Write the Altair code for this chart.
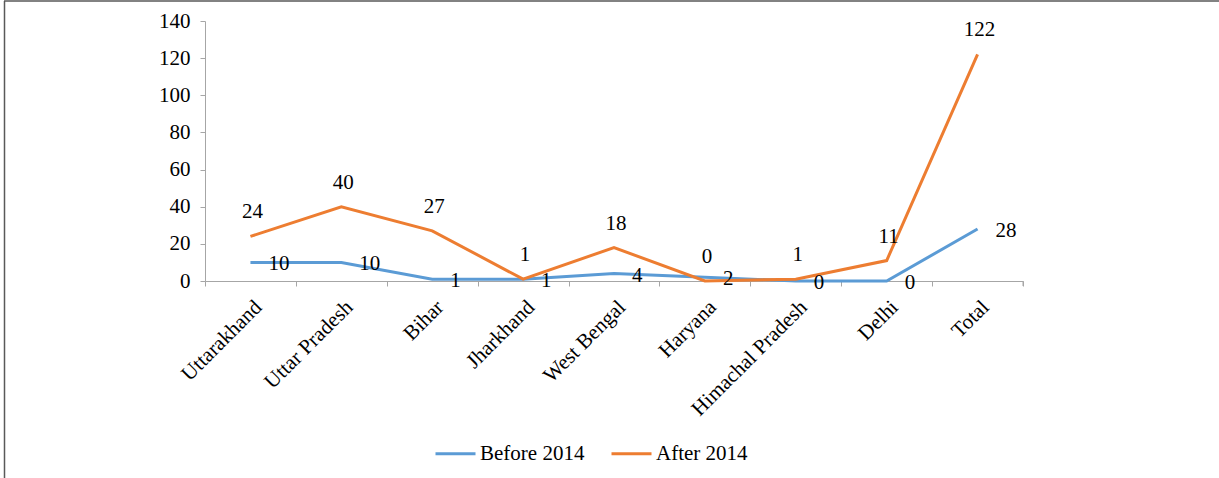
import altair as alt
import pandas as pd

states = ["Uttarakhand", "Uttar Pradesh", "Bihar", "Jharkhand", "West Bengal",
          "Haryana", "Himachal Pradesh", "Delhi", "Total"]
before_2014 = [10, 10, 1, 1, 4, 2, 0, 0, 28]
after_2014 = [24, 40, 27, 1, 18, 0, 1, 11, 122]
series_names = ["Before 2014", "After 2014"]
series_colors = ["#5B9BD5", "#ED7D31"]

rows = []
for s, b, a in zip(states, before_2014, after_2014):
    rows.append({"State": s, "Series": "Before 2014", "Value": b})
    rows.append({"State": s, "Series": "After 2014", "Value": a})
df = pd.DataFrame(rows)

FONT = "Liberation Serif"
FS = 21
AX = "#A6A6A6"
W, H = 818, 260

x_enc = alt.X("State:N", sort=states, title=None,
              scale=alt.Scale(type="band", paddingInner=0, paddingOuter=0),
              axis=alt.Axis(labelAngle=-45, labelFont=FONT, labelFontSize=FS,
                            labelColor="#000000", domainColor=AX, tickColor=AX,
                            tickSize=5, tickBand="extent", labelPadding=10,
                            grid=False, labelAlign="right", labelBaseline="top",
                            labelOverlap=False))
y_enc = alt.Y("Value:Q", title=None,
              scale=alt.Scale(domain=[0, 140], nice=False),
              axis=alt.Axis(values=[0, 20, 40, 60, 80, 100, 120, 140], labelFont=FONT,
                            labelFontSize=FS, labelColor="#000000", domainColor=AX,
                            tickColor=AX, tickSize=5, labelPadding=10, grid=False,
                            labelOverlap=False, labelFlush=False))

base = alt.Chart(df)

lines = base.mark_line(strokeWidth=3).encode(
    x=x_enc, y=y_enc,
    color=alt.Color("Series:N", sort=series_names,
                    scale=alt.Scale(domain=series_names, range=series_colors),
                    legend=alt.Legend(title=None, orient="none", legendX=229,
                                      legendY=411, direction="horizontal",
                                      symbolType="stroke", symbolStrokeWidth=3,
                                      symbolSize=1600, labelFont=FONT,
                                      labelFontSize=FS, labelColor="#000000",
                                      columnPadding=20, labelOffset=3, padding=0)),
    detail="Series:N",
)

lbl_before = base.transform_filter(alt.datum.Series == "Before 2014").mark_text(
    align="left", baseline="middle", dx=18, dy=2, font=FONT, fontSize=FS,
    color="#000000").encode(x=x_enc, y=y_enc, text="Value:Q")
lbl_after = base.transform_filter(alt.datum.Series == "After 2014").mark_text(
    align="center", baseline="middle", dx=2, dy=-24, font=FONT, fontSize=FS,
    color="#000000").encode(x=x_enc, y=y_enc, text="Value:Q")

end_tick = alt.Chart(pd.DataFrame({"k": [0]})).mark_rule(color=AX, strokeWidth=1).encode(
    x=alt.value(W), y=alt.value(H), y2=alt.value(H + 5))
frame_left = alt.Chart(pd.DataFrame({"k": [0]})).mark_rule(color="#595959", strokeWidth=1.5).encode(
    x=alt.value(-200.5), y=alt.value(-20), y2=alt.value(480))
frame_top = alt.Chart(pd.DataFrame({"k": [0]})).mark_rule(color="#595959", strokeWidth=1.5).encode(
    x=alt.value(-201), x2=alt.value(1020), y=alt.value(-20))

chart = alt.layer(lines, lbl_before, lbl_after, end_tick, frame_left, frame_top).properties(
    width=W, height=H,
    autosize=alt.AutoSizeParams(type="none"),
    padding={"left": 205, "top": 21, "right": 196, "bottom": 197},
    background="#FFFFFF",
).configure_view(stroke=None)

chart.save("out.html", embed_options={"renderer": "svg", "actions": False})
